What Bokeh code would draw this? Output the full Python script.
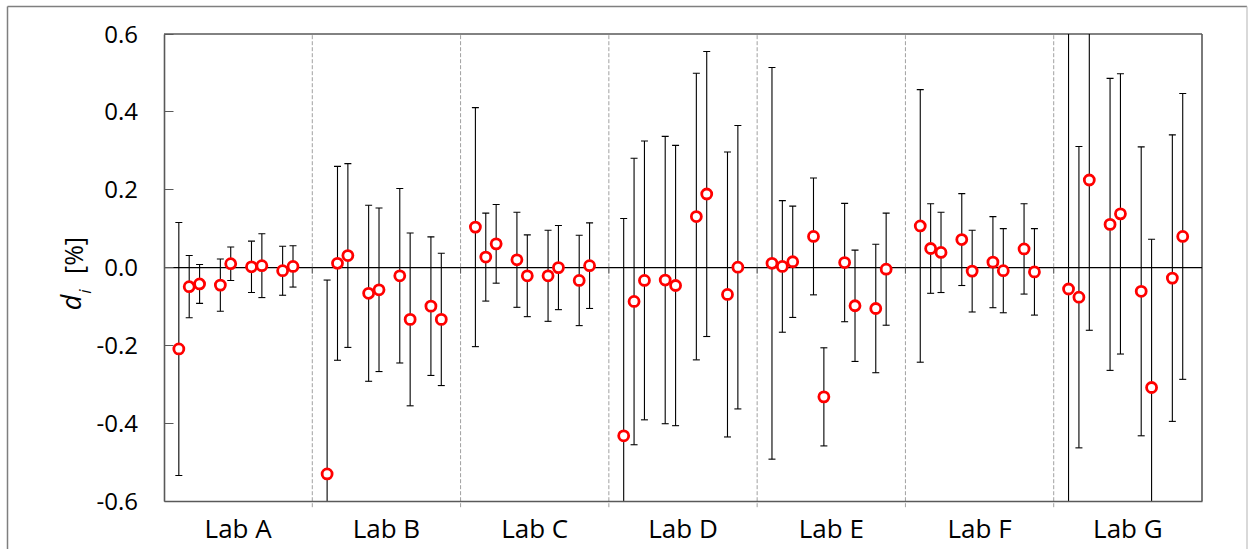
from bokeh.plotting import figure
from bokeh.models import Range1d, FixedTicker, PrintfTickFormatter, LinearAxis, ColumnDataSource
from bokeh.core.properties import value
from bokeh.embed import file_html
from bokeh.resources import INLINE
import math

labs = ["Lab A", "Lab B", "Lab C", "Lab D", "Lab E", "Lab F", "Lab G"]
slots = [1, 2, 3, 5, 6, 8, 9, 11, 12]

d_lab_a = [-0.209, -0.049, -0.042, -0.045, 0.010, 0.002, 0.005, -0.008, 0.003]
u_lab_a = [0.325, 0.080, 0.050, 0.067, 0.043, 0.066, 0.082, 0.063, 0.053]
d_lab_b = [-0.530, 0.011, 0.031, -0.066, -0.057, -0.021, -0.133, -0.099, -0.133]
u_lab_b = [0.498, 0.249, 0.236, 0.226, 0.210, 0.224, 0.222, 0.178, 0.170]
d_lab_c = [0.104, 0.027, 0.061, 0.020, -0.021, -0.021, 0.000, -0.033, 0.005]
u_lab_c = [0.307, 0.113, 0.101, 0.122, 0.105, 0.117, 0.108, 0.116, 0.110]
d_lab_d = [-0.432, -0.087, -0.033, -0.032, -0.046, 0.131, 0.189, -0.069, 0.001]
u_lab_d = [0.558, 0.368, 0.358, 0.369, 0.360, 0.368, 0.366, 0.366, 0.364]
d_lab_e = [0.011, 0.003, 0.015, 0.080, -0.332, 0.013, -0.098, -0.105, -0.004]
u_lab_e = [0.503, 0.169, 0.143, 0.150, 0.126, 0.152, 0.143, 0.165, 0.144]
d_lab_f = [0.107, 0.049, 0.039, 0.072, -0.009, 0.014, -0.008, 0.048, -0.011]
u_lab_f = [0.350, 0.115, 0.103, 0.118, 0.105, 0.117, 0.108, 0.116, 0.111]
d_lab_g = [-0.055, -0.076, 0.225, 0.111, 0.138, -0.061, -0.308, -0.027, 0.080]
u_lab_g = [0.750, 0.387, 0.386, 0.375, 0.360, 0.371, 0.381, 0.368, 0.367]

y_ticks = [-0.6, -0.4, -0.2, 0.0, 0.2, 0.4, 0.6]
y_min, y_max = -0.6, 0.6

all_d = [d_lab_a, d_lab_b, d_lab_c, d_lab_d, d_lab_e, d_lab_f, d_lab_g]
all_u = [u_lab_a, u_lab_b, u_lab_c, u_lab_d, u_lab_e, u_lab_f, u_lab_g]

xs, ys, lo, hi = [], [], [], []
cap_x, cap_y = [], []
for i, (dv, uv) in enumerate(zip(all_d, all_u)):
    for s, d, u in zip(slots, dv, uv):
        x = i + 0.03 + 0.07 * s
        xs.append(x)
        ys.append(d)
        lo.append(max(d - u, y_min))   # bars are cut at the plot area
        hi.append(min(d + u, y_max))
        for c in (d - u, d + u):
            if y_min <= c <= y_max:
                cap_x.append(x)
                cap_y.append(c)
src = ColumnDataSource(dict(x=xs, y=ys, lo=lo, hi=hi))
caps = ColumnDataSource(dict(x=cap_x, y=cap_y))

# ---- layout: the frame covers the whole canvas; plot area placed by the ranges
W, H = 1248, 549
PX_X0, PX_X1 = 163.5, 1201.5      # pixel position of x = 0 and x = 7
PX_Y0, PX_Y1 = 33.5, 500.7        # pixel position of y = 0.6 and y = -0.6
nlab = len(labs)
sx = (PX_X1 - PX_X0) / nlab
sy = (PX_Y1 - PX_Y0) / (y_max - y_min)


def xd(px):
    return (px - PX_X0) / sx


def yd(py):
    return y_max - (py - PX_Y0) / sy


FONT = "Open Sans"

p = figure(width=W, height=H, output_backend="svg", toolbar_location=None,
           x_range=Range1d(xd(0), xd(W)), y_range=Range1d(yd(H), yd(0)),
           x_axis_location=None, y_axis_location=None, title=None,
           min_border=0)
p.background_fill_color = "white"
p.border_fill_color = "white"
p.outline_line_color = None
p.xgrid.visible = False
p.ygrid.visible = False

# outer chart border
bl, bt, br = xd(7), yd(6), xd(W - 1.5)
p.segment(x0=[bl, bl], y0=[yd(H), bt], x1=[bl, br], y1=[bt, bt], line_color="#7f7f7f", line_width=1.5)
p.segment(x0=[br], y0=[bt], x1=[br], y1=[yd(H)], line_color="#c0c0c0", line_width=1.2)

# separators between labs
bounds = list(range(1, nlab))
p.segment(x0=bounds, y0=[yd(PX_Y1 + 6)] * len(bounds), x1=bounds, y1=[y_max] * len(bounds),
          line_color="#a0a0a0", line_width=1, line_dash="4 2")

# plot-area top and right edges
p.segment(x0=[0, nlab], y0=[y_max, y_min], x1=[nlab, nlab], y1=[y_max, y_max],
          line_color="#595959", line_width=1.6)

# zero line + small category ticks on it
p.segment(x0=[0], y0=[0], x1=[nlab], y1=[0], line_color="black", line_width=1.4)
p.segment(x0=bounds, y0=[0] * len(bounds), x1=bounds, y1=[-6 / sy] * len(bounds),
          line_color="#595959", line_width=1)

# y axis
yax = LinearAxis(fixed_location=0, bounds=(y_min, y_max))
yax.ticker = FixedTicker(ticks=y_ticks)
yax.formatter = PrintfTickFormatter(format="%.1f")
yax.major_tick_in = 9
yax.major_tick_out = 0
yax.minor_tick_line_color = None
yax.major_tick_line_color = "#595959"
yax.axis_line_color = "#595959"
yax.axis_line_width = 1.6
yax.major_label_standoff = 26
yax.major_label_text_font = FONT
yax.major_label_text_font_size = "24px"
yax.major_label_text_color = "black"
p.add_layout(yax, "left")

# x axis with lab labels
centers = [i + 0.5 for i in range(nlab)]
xax = LinearAxis(fixed_location=y_min, bounds=(0, nlab))
xax.ticker = FixedTicker(ticks=centers)
xax.major_label_overrides = {c: l for c, l in zip(centers, labs)}
xax.major_tick_line_color = None
xax.minor_tick_line_color = None
xax.axis_line_color = "#595959"
xax.axis_line_width = 1.6
xax.major_label_standoff = 3
xax.major_label_text_font = FONT
xax.major_label_text_font_size = "26px"
xax.major_label_text_color = "black"
p.add_layout(xax, "below")

# error bars
p.segment(x0="x", y0="lo", x1="x", y1="hi", source=src, line_color="black", line_width=1.1)
p.scatter(x="x", y="y", source=caps, marker="dash", size=7, line_color="black", line_width=1.1)

# points
p.scatter(x="x", y="y", source=src, marker="circle", size=10, line_color="#ff0000",
          line_width=2.8, fill_color="white")

# y-axis title: d_i [%]
p.text(x=[xd(70)], y=[yd(302)], text=["d"], angle=math.pi / 2, text_font=value(FONT),
       text_font_style="italic", text_font_size="27px", text_align="center",
       text_baseline="middle", text_color="black")
p.text(x=[xd(84)], y=[yd(291)], text=["i"], angle=math.pi / 2, text_font=value(FONT),
       text_font_style="italic", text_font_size="17px", text_align="center",
       text_baseline="middle", text_color="black")
p.text(x=[xd(72)], y=[yd(255)], text=["[%]"], angle=math.pi / 2, text_font=value(FONT),
       text_font_size="25px", text_align="center", text_baseline="middle", text_color="black")

open("out.html", "w").write(file_html(p, INLINE))
